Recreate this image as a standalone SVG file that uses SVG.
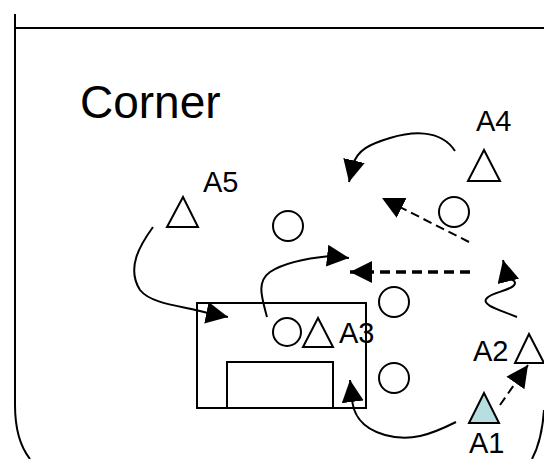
<svg xmlns="http://www.w3.org/2000/svg" width="544" height="459" viewBox="0 0 544 459">
<style>
.ln{fill:none;stroke:#000;stroke-width:2}
.sh{fill:#fff;stroke:#000;stroke-width:2}
.thin{fill:none;stroke:#000;stroke-width:2;stroke-dasharray:9,5}
.thick{fill:none;stroke:#000;stroke-width:3.5;stroke-dasharray:10,6}
.lb{font-family:"Liberation Sans",Arial,sans-serif;font-size:29px;fill:#000}
</style>
<defs>
<marker id="ah" markerUnits="userSpaceOnUse" markerWidth="24" markerHeight="24" refX="22" refY="11" orient="auto" viewBox="0 0 24 24">
<path d="M0,0 L22,11 L0,22 Z" fill="#000"/>
</marker>
</defs>
<rect width="544" height="459" fill="#fff"/>
<g id="frame">
<path class="ln" d="M15,14 V405 Q15,440 30,459"/>
<path class="ln" d="M15,28 H544"/>
<path class="ln" d="M544,410 Q542,440 532,459"/>
<text x="80" y="118" style="font-family:'Liberation Sans',Arial,sans-serif;font-size:46px">Corner</text>
</g>
<g id="box">
<rect class="sh" x="197" y="303" width="169" height="105"/>
<rect class="sh" x="227" y="362" width="106" height="46"/>
</g>
<g id="A5">
<polygon class="sh" points="183,197 167,227 198,227"/>
<text class="lb" x="203" y="192">A5</text>
</g>
<g id="A4">
<polygon class="sh" points="484,150 468,181 500,181"/>
<text class="lb" x="476" y="131">A4</text>
</g>
<g id="A3">
<circle class="sh" cx="287" cy="332" r="14"/>
<polygon class="sh" points="318,318 303,347 333,347"/>
<text class="lb" x="339" y="343">A3</text>
</g>
<g id="A2">
<polygon class="sh" points="529,334 515,363 544,363"/>
<text class="lb" x="473" y="361">A2</text>
</g>
<g id="A1">
<polygon points="484,393 469,423 499,423" fill="#b7dfe1" stroke="#000" stroke-width="2"/>
<text class="lb" x="469" y="453">A1</text>
</g>
<g id="circles">
<circle class="sh" cx="454" cy="212" r="15"/>
<circle class="sh" cx="288" cy="226" r="15"/>
<circle class="sh" cx="394" cy="302" r="15"/>
<circle class="sh" cx="394" cy="378" r="15"/>
</g>
<g id="connectors">
<path class="ln" marker-end="url(#ah)" d="M455,151 C440,128 410,132 390,138 C370,144 357,150 353,165 L349,182"/>
<path class="thin" marker-end="url(#ah)" d="M469,242 L382,198"/>
<path class="thick" marker-end="url(#ah)" d="M470,272 L350,272"/>
<path class="ln" marker-end="url(#ah)" d="M267,317 C262,298 256,282 270,272 C285,262 310,258 330,256 L349,258"/>
<path class="ln" marker-end="url(#ah)" d="M517,317 C500,310 480,305 487,298 C492,292 515,290 515,283 C515,279 509,280 507,276 L503,260"/>
<path class="ln" marker-end="url(#ah)" d="M153,227 C140,245 126,268 140,290 C152,305 185,306 208,313 L228,317"/>
<path class="ln" marker-end="url(#ah)" d="M456,422 C430,435 410,442 385,435 C360,428 352,412 352,396 L350,380"/>
<path class="thin" marker-end="url(#ah)" d="M500,405 L528,365"/>
</g>
</svg>
